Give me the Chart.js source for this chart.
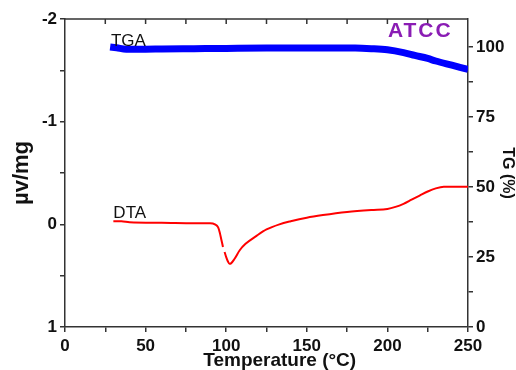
<!DOCTYPE html>
<html>
<head>
<meta charset="utf-8">
<script src="https://cdn.jsdelivr.net/npm/chart.js@4.4.1/dist/chart.umd.min.js"></script>
<style>
body{margin:0;background:#fff;}
canvas{display:block;}
</style>
</head>
<body>
<canvas id="myChart" width="516" height="370"></canvas>
<script>
// TGA curve, read on the right axis (TG %)
const tgaTemp = [28, 32, 38, 50, 60, 80, 100, 125, 150, 170, 180, 190, 200, 210, 217, 225, 230, 240, 250];
const tgaMass = [100.0, 99.7, 99.2, 99.2, 99.3, 99.4, 99.5, 99.6, 99.6, 99.6, 99.6, 99.4, 99.0, 98.0, 97.0, 95.9, 95.0, 93.5, 92.0];

// DTA curve, read on the left axis (µv/mg, reversed); null = the small break in the trace
const dtaTemp = [30, 35, 40, 60, 80, 90, 93, 95, 96, 97, 98, 98.5, 99, 100, 101, 102, 103, 105, 108.5, 112, 119, 125, 133, 140, 150, 160, 175, 190, 200, 205, 210, 215, 220, 225, 230, 235, 240, 250];
const dtaSignal = [-0.03, -0.03, -0.02, -0.015, -0.01, -0.01, 0.0, 0.03, 0.08, 0.15, 0.22, null, 0.27, 0.32, 0.36, 0.385, 0.38, 0.34, 0.25, 0.19, 0.11, 0.05, 0.0, -0.03, -0.065, -0.09, -0.12, -0.14, -0.15, -0.17, -0.2, -0.24, -0.28, -0.32, -0.35, -0.365, -0.365, -0.365];

// tick labels
const xTicks = [0, 50, 100, 150, 200, 250];
const leftTicks = [-2, -1, 0, 1];
const rightTicks = [0, 25, 50, 75, 100];

const axisColor = "#333";
const fontFam = "'Liberation Sans', Arial, sans-serif";

// top frame line with inward ticks + text labels
const extras = {
  id: "extras",
  afterDraw(chart) {
    const c = chart.ctx;
    const a = chart.chartArea;
    const x = chart.scales.x;
    const y = chart.scales.y;
    const y2 = chart.scales.y2;
    c.save();
    c.strokeStyle = axisColor;
    c.lineWidth = 1.5;
    c.beginPath();
    c.moveTo(a.left, a.top);
    c.lineTo(a.right, a.top);
    for (let v = 25; v < 250; v += 25) {
      const px = x.getPixelForValue(v);
      c.moveTo(px, a.top);
      c.lineTo(px, a.top + 5);
    }
    c.stroke();

    c.fillStyle = "#111";
    c.font = "17px " + fontFam;
    c.textBaseline = "alphabetic";
    c.fillText("TGA", x.getPixelForValue(28.5), y2.getPixelForValue(100.3));
    c.fillText("DTA", x.getPixelForValue(30), y.getPixelForValue(-0.06));

    c.fillStyle = "#8a1db4";
    c.font = "bold 21px " + fontFam;
    c.letterSpacing = "2px";
    c.fillText("ATCC", x.getPixelForValue(200.3), y2.getPixelForValue(103.7));
    c.restore();
  }
};

const ctx = document.getElementById("myChart");

let chart = new Chart(ctx, {
  type: "line",
  data: {
    datasets: [
      {
        label: "TGA",
        data: tgaTemp.map((t, i) => ({x: t, y: tgaMass[i]})),
        yAxisID: "y2",
        borderColor: "#0000ff",
        borderWidth: 7,
        borderCapStyle: "butt",
        pointRadius: 0,
        cubicInterpolationMode: "monotone"
      },
      {
        label: "DTA",
        data: dtaTemp.map((t, i) => ({x: t, y: dtaSignal[i]})),
        yAxisID: "y",
        borderColor: "#ff0000",
        borderWidth: 2,
        pointRadius: 0,
        spanGaps: false,
        cubicInterpolationMode: "monotone"
      }
    ]
  },
  options: {
    responsive: false,
    animation: false,
    layout: {padding: {top: 19}},
    plugins: {legend: {display: false}, tooltip: {enabled: false}},
    scales: {
      x: {
        type: "linear",
        min: 0,
        max: 250,
        afterFit(s) { s.height = 43; },
        border: {display: true, color: axisColor, width: 1.5},
        grid: {drawOnChartArea: false, drawTicks: true, tickLength: 5, color: axisColor, lineWidth: 1.5},
        ticks: {
          stepSize: 25,
          padding: 4,
          maxRotation: 0,
          autoSkip: false,
          color: "#111",
          font: {family: fontFam, size: 17, weight: "bold"},
          callback: v => xTicks.includes(v) ? String(v) : ""
        },
        title: {
          display: true,
          // leading spaces nudge the centred title right, as in the reference
          text: "     Temperature (°C)",
          color: "#111",
          padding: {top: 0, bottom: 0},
          font: {family: fontFam, size: 19, weight: "bold", lineHeight: 1}
        }
      },
      y: {
        position: "left",
        min: -2,
        max: 1,
        reverse: true,
        afterFit(s) { s.width = 65; },
        border: {display: true, color: axisColor, width: 1.5},
        grid: {drawOnChartArea: false, drawTicks: true, tickLength: 5, color: axisColor, lineWidth: 1.5},
        ticks: {
          stepSize: 0.5,
          padding: 3,
          autoSkip: false,
          color: "#111",
          font: {family: fontFam, size: 17, weight: "bold"},
          callback: v => leftTicks.includes(v) ? String(v) : ""
        },
        title: {
          display: true,
          text: "µv/mg",
          color: "#111",
          padding: {top: 11, bottom: 0},
          font: {family: fontFam, size: 22, weight: "bold", lineHeight: 1}
        }
      },
      y2: {
        position: "right",
        min: 0,
        max: 110,
        afterFit(s) { s.width = 48; },
        afterBuildTicks(s) { s.ticks = s.ticks.filter(t => t.value <= 100); },
        border: {display: true, color: axisColor, width: 1.5},
        grid: {drawOnChartArea: false, drawTicks: true, tickLength: 5, color: axisColor, lineWidth: 1.5},
        ticks: {
          stepSize: 12.5,
          padding: 3,
          autoSkip: false,
          color: "#111",
          font: {family: fontFam, size: 17, weight: "bold"},
          callback: v => rightTicks.includes(v) ? String(v) : ""
        },
        title: {
          display: true,
          text: "TG (%)",
          color: "#111",
          padding: {top: 0, bottom: 0},
          font: {family: fontFam, size: 16, weight: "bold", lineHeight: 1.1}
        }
      }
    }
  },
  plugins: [extras]
});
</script>
</body>
</html>
